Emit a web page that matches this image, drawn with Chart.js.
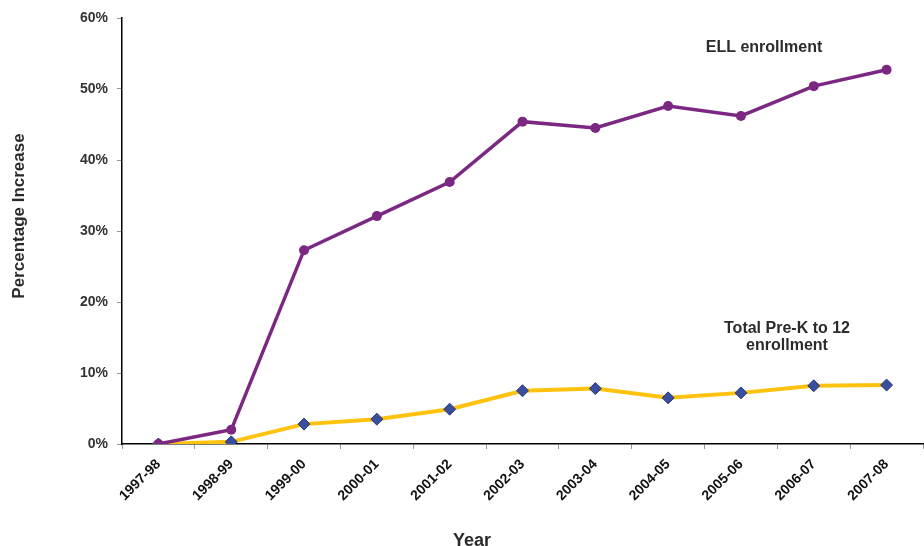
<!DOCTYPE html>
<html>
<head>
<meta charset="utf-8">
<script src="https://cdn.jsdelivr.net/npm/chart.js@4/dist/chart.umd.min.js"></script>
<style>
  html, body { margin: 0; padding: 0; background: #fff; overflow: hidden; }
  #wrap { width: 930px; height: 546px; }
</style>
</head>
<body>
<div id="wrap"><canvas id="c" width="930" height="546"></canvas></div>
<script>
const years = ["1997-98","1998-99","1999-00","2000-01","2001-02","2002-03","2003-04","2004-05","2005-06","2006-07","2007-08"];
const ellIncrease = [0, 2.0, 27.3, 32.1, 36.9, 45.4, 44.5, 47.6, 46.2, 50.4, 52.7];
const totalIncrease = [0, 0.3, 2.8, 3.5, 4.9, 7.5, 7.8, 6.5, 7.2, 8.2, 8.3];
const yTicks = [0, 10, 20, 30, 40, 50, 60];

const FONT = "'Liberation Sans', Arial, sans-serif";

const textPlugin = {
  id: 'texts',
  afterDraw(chart) {
    const ctx = chart.ctx;
    ctx.save();
    ctx.fillStyle = '#2b2b2b';
    ctx.textAlign = 'center';
    ctx.textBaseline = 'middle';
    ctx.font = 'bold 16px ' + FONT;
    ctx.fillText('ELL enrollment', 764, 48);
    ctx.fillText('Total Pre-K to 12', 787, 329);
    ctx.fillText('enrollment', 787, 346);
    ctx.font = 'bold 18px ' + FONT;
    ctx.textBaseline = 'alphabetic';
    ctx.fillText('Year', 472, 546);
    ctx.textBaseline = 'middle';
    ctx.translate(19, 216);
    ctx.rotate(-Math.PI / 2);
    ctx.font = 'bold 17px ' + FONT;
    ctx.fillText('Percentage Increase', 0, 0);
    ctx.restore();
  }
};

new Chart(document.getElementById('c'), {
  type: 'line',
  data: {
    labels: years,
    datasets: [
      {
        label: 'ELL enrollment',
        data: ellIncrease,
        borderColor: '#7B2882',
        backgroundColor: '#7B2882',
        borderWidth: 3.5,
        pointStyle: 'circle',
        pointRadius: 5,
        pointBorderWidth: 0,
        tension: 0
      },
      {
        label: 'Total Pre-K to 12 enrollment',
        data: totalIncrease,
        borderColor: '#FFC20E',
        backgroundColor: '#3A4E9E',
        pointBorderColor: '#2A3A80',
        borderWidth: 4,
        pointStyle: 'rectRot',
        pointRadius: 6,
        pointBorderWidth: 1,
        tension: 0
      }
    ]
  },
  options: {
    responsive: false,
    animation: false,
    devicePixelRatio: 1,
    layout: { padding: { top: 18, right: 0, left: 0, bottom: 0 } },
    plugins: { legend: { display: false }, tooltip: { enabled: false } },
    scales: {
      x: {
        offset: true,
        grid: { display: true, drawOnChartArea: false, offset: true, tickLength: 5, color: '#999', lineWidth: 1 },
        border: { display: true, color: '#000', width: 1.5 },
        ticks: {
          autoSkip: false,
          maxRotation: 45,
          minRotation: 45,
          padding: 7,
          color: '#111',
          font: { family: FONT, size: 14, weight: 'bold' }
        },
        afterFit(s) { s.height = 102; }
      },
      y: {
        min: 0,
        max: 60,
        afterBuildTicks(s) { s.ticks = yTicks.map(v => ({ value: v })); },
        grid: { display: true, drawOnChartArea: false, tickLength: 5, color: '#999', lineWidth: 1 },
        border: { display: true, color: '#000', width: 1.5 },
        ticks: {
          padding: 9,
          color: '#333',
          font: { family: FONT, size: 14, weight: 'bold' },
          callback: v => v + '%'
        },
        afterFit(s) { s.width = 122; }
      }
    }
  },
  plugins: [textPlugin]
});
</script>
</body>
</html>
